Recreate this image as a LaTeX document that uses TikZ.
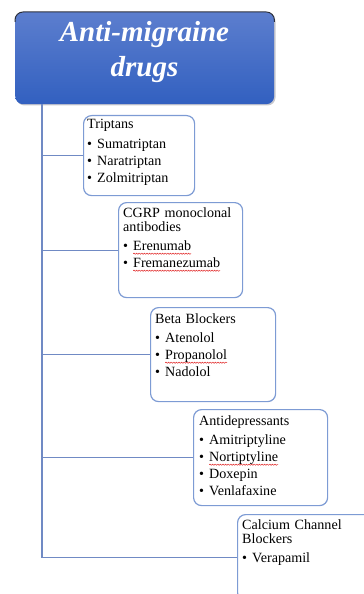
\documentclass[tikz,border=0pt]{standalone}
\usepackage{fontspec}
\setmainfont{Liberation Serif}
\usetikzlibrary{calc,decorations.pathmorphing}
\definecolor{boxline}{RGB}{125,155,212}
\definecolor{connline}{RGB}{112,138,196}
\definecolor{titletop}{RGB}{92,126,206}
\definecolor{titlebot}{RGB}{50,96,192}
\definecolor{titleedge}{RGB}{40,45,60}
\definecolor{titleshadow}{RGB}{200,200,205}
\definecolor{wavered}{RGB}{225,40,40}
\newsavebox\wavebox
\newlength\wavewd
\newcommand\redwave[1]{\sbox\wavebox{#1}\setlength\wavewd{\wd\wavebox}\leavevmode\rlap{\tikz[overlay]\draw[wavered, line width=0.5bp, decorate, decoration={snake, amplitude=0.6bp, segment length=2.6bp}] (0bp,-3.2bp) -- (\wavewd,-3.2bp);}\usebox\wavebox}
\newcommand\itm[1]{\makebox[10bp][l]{\textbullet}#1}
\begin{document}
\begin{tikzpicture}[x=1bp,y=-1bp,
  box/.style={draw=boxline, line width=1.2bp, rounded corners=8bp, fill=white, anchor=north west, inner sep=0pt},
  conn/.style={draw=connline, line width=1.2bp},
  txt/.style={anchor=base west, inner sep=0pt, align=left, text width=#1, font=\fontsize{14.1bp}{14bp}\selectfont},
  titlebox/.style={rounded corners=8bp, top color=titletop, bottom color=titlebot, anchor=north west, inner sep=0pt, minimum width=259bp, minimum height=92bp},
  titletext/.style={anchor=base, inner sep=0pt, align=center, text width=250bp, text=white, font=\fontsize{29bp}{35bp}\selectfont\bfseries\itshape}
  ]
\useasboundingbox (0,0) rectangle (363,594);
% title
\fill[titleshadow, rounded corners=8bp] (16.5,13.5) rectangle (275.5,105.5);
\node[titlebox] (title) at (15,12) {};
\draw[titleedge, line width=1bp, rounded corners=8bp] ($(title.north west)+(0,10)$) -- (title.north west) -- (title.north east) -- ($(title.north east)+(0,10)$);
\node[titletext] (ttext) at (144.5,42) {Anti-migraine\\drugs};
% boxes
\node[box, minimum width=111bp, minimum height=80bp] (b1) at (83,115) {};
\node[box, minimum width=124bp, minimum height=95bp] (b2) at (118,202) {};
\node[box, minimum width=125bp, minimum height=94bp] (b3) at (150,307) {};
\node[box, minimum width=134bp, minimum height=96bp] (b4) at (193,409) {};
\node[box, minimum width=150bp, minimum height=86bp] (b5) at (237,514) {};
% connectors
\coordinate (trunk) at (42,104);
\draw[conn] (trunk) -- (trunk |- b5.west) -- (b5.west);
\draw[conn] (trunk |- b1.west) -- (b1.west);
\draw[conn] (trunk |- b2.west) -- (b2.west);
\draw[conn] (trunk |- b3.west) -- (b3.west);
\draw[conn] (trunk |- b4.west) -- (b4.west);
% texts
\node[txt=106bp] (t1) at (87,129) {Triptans\\[5.5bp]\itm{Sumatriptan}\\[3bp]\itm{Naratriptan}\\[3bp]\itm{Zolmitriptan}};
\node[txt=119bp] (t2) at (123,217) {CGRP monoclonal\\antibodies\\[5.5bp]\itm{\redwave{Erenumab}}\\[3bp]\itm{\redwave{Fremanezumab}}};
\node[txt=119bp] (t3) at (155,323) {Beta Blockers\\[5.5bp]\itm{Atenolol}\\[3bp]\itm{\redwave{Propanolol}}\\[3bp]\itm{Nadolol}};
\node[txt=127bp] (t4) at (199,425) {Antidepressants\\[5.5bp]\itm{Amitriptyline}\\[3bp]\itm{\redwave{Nortiptyline}}\\[3bp]\itm{Doxepin}\\[3bp]\itm{Venlafaxine}};
\node[txt=119bp] (t5) at (242,529) {Calcium Channel\\Blockers\\[5.5bp]\itm{Verapamil}};
\end{tikzpicture}
\end{document}
